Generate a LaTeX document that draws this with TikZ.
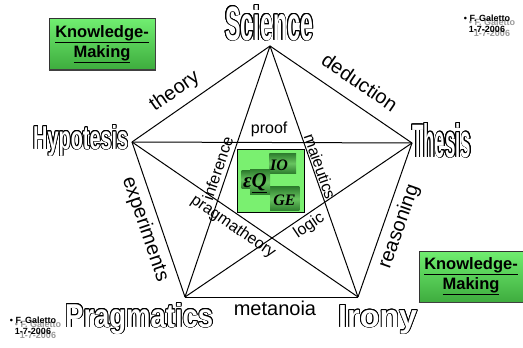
\documentclass[tikz,border=0pt]{standalone}
\usepackage{fontspec}
\setmainfont{Liberation Sans}
\newfontfamily\serifbf{Liberation Serif}
\usepackage{graphicx}
\usepackage{contour}
\usetikzlibrary{positioning, calc}
\definecolor{kmlight}{RGB}{112,238,112}
\definecolor{kmdark}{RGB}{62,172,62}
\definecolor{cgreen}{RGB}{122,240,112}
\definecolor{igdark}{RGB}{46,126,46}
\definecolor{iglight}{RGB}{104,196,96}
\contourlength{0.8pt}
% hollow (outlined) letters
\newcommand{\hollow}[3]{\contour{black}{\resizebox{#1}{#2}{\bfseries #3}}}

\begin{document}
\begin{tikzpicture}[
  x=1pt, y=-1pt,
  line/.style   = {line width=1pt, black},
  outlbl/.style = {font=\fontsize{20}{20}\selectfont, inner sep=1pt},
  inlbl/.style  = {font=\fontsize{16}{16}\selectfont, inner sep=1pt},
  vtx/.style    = {inner sep=0pt, anchor=base west, text=white},
  kmbox/.style  = {rectangle, draw=black!80, line width=0.6pt,
                   top color=kmlight, bottom color=kmdark,
                   minimum width=#1, minimum height=51pt, align=center,
                   font=\fontsize{16.5}{20}\selectfont\bfseries, inner sep=0pt},
  wm/.style     = {align=center, font=\fontsize{9}{11}\selectfont\bfseries,
                   inner sep=0pt},
  igbox/.style  = {rectangle, inner sep=0pt, minimum width=#1,
                   top color=igdark, bottom color=igdark, middle color=iglight},
  igtxt/.style  = {inner sep=0pt,
                   font=\serifbf\bfseries\itshape\fontsize{16}{16}\selectfont},
]
\useasboundingbox (0,0) rectangle (523,348);
% pentagon corners
\coordinate (sci)  at (270,46);
\coordinate (hyp)  at (132,142);
\coordinate (thes) at (412,143);
\coordinate (pra)  at (185,297);
\coordinate (iro)  at (358,297);
% outer edges
\draw[line] (hyp) -- node[outlbl, sloped, above=6pt, pos=0.38] {theory} (sci);
\draw[line] (sci) -- node[outlbl, sloped, above=12pt, pos=0.55] {deduction} (thes);
\draw[line] (hyp) -- node[outlbl, sloped, below=5pt, pos=0.53] {experiments} (pra);
\draw[line] (iro) -- node[outlbl, sloped, below=5pt, pos=0.49] {reasoning} (thes);
\draw[line] (pra) -- node[outlbl, below=3pt, pos=0.52] {metanoia} (iro);
% star
\draw[line] (hyp) -- node[inlbl, above=4pt, pos=0.49] {proof} (thes);
\draw[line] (pra) -- node[inlbl, sloped, above=3pt, pos=0.5] {inference} (sci);
\draw[line] (sci) -- node[inlbl, sloped, above=0pt, pos=0.49] {maieutics} (iro);
\draw[line] (hyp) -- node[inlbl, sloped, below=4pt, pos=0.48] {pragmatheory} (iro);
\draw[line] (pra) -- node[inlbl, sloped, below=2pt, pos=0.52] {logic} (thes);
% corner names
\node[vtx] (scil) at (225,40)  {\hollow{88pt}{35pt}{Science}};
\node[vtx] (hypl) at (33,149)  {\hollow{95pt}{24pt}{Hypotesis}};
\node[vtx] (thel) at (412,157) {\hollow{59pt}{34pt}{Thesis}};
\node[vtx] (pral) at (65,327)  {\hollow{148pt}{24pt}{Pragmatics}};
\node[vtx] (irol) at (338,327) {\hollow{79pt}{22pt}{Irony}};
% centre box
\node[draw, fill=cgreen, line width=0.6pt, minimum width=67pt,
      minimum height=63pt, inner sep=0pt] (core) at (270.5,180.7) {};
\node[igbox=26.7pt, minimum height=20pt]   (ioback)  at (282.7,163.3) {};
\node[igbox=29.3pt, minimum height=24pt]   (geback)  at (284.7,198.7) {};
\node[igbox=9pt,    minimum height=17.6pt] (epsback) at (246.2,179.5) {};
\node[igbox=20pt,   minimum height=25.7pt] (qback)   at (260,182)     {};
\node[igtxt] (io) at (279,165.5) {IO};
\node[igtxt] (ge) at (284.5,200) {GE};
\node[igtxt, font=\serifbf\bfseries\itshape\fontsize{21}{21}\selectfont]
      (eq) at (255,183) {ε\underline{Q}};
% knowledge-making boxes
\node[kmbox=106pt] (kmA) at (102,44)
      {\underline{Knowledge-}\\\underline{Making}};
\node[kmbox=104pt] (kmB) at (471,276.5)
      {\underline{Knowledge-}\\\underline{Making}};
\draw[line width=1.4pt, black!75] (kmA.south west) -- (kmA.south east) -- (kmA.north east);
\draw[line width=1.4pt, black!75] (kmB.south west) -- (kmB.south east) -- (kmB.north east);
% signatures
\node[wm, text=black!40] (wmAs) at (492,28)  {\textbullet\ F. Galetto\\1-7-2006};
\node[wm]                (wmA)  at (487,24)  {\textbullet\ F. Galetto\\1-7-2006};
\node[wm, text=black!40] (wmBs) at (38,329.5) {\textbullet\ F. Galetto\\1-7-2006};
\node[wm]                (wmB)  at (33,325.5) {\textbullet\ F. Galetto\\1-7-2006};
\end{tikzpicture}
\end{document}
